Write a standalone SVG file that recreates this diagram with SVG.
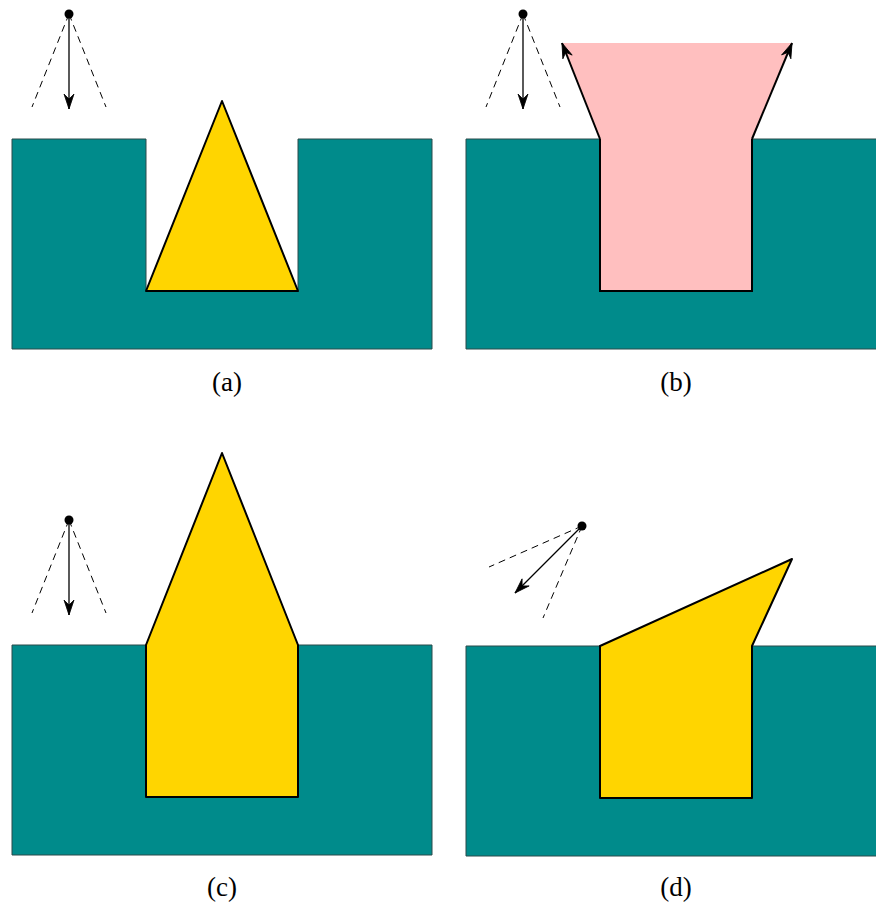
<svg xmlns="http://www.w3.org/2000/svg" width="876" height="905" viewBox="0 0 876 905">
<style>
.sub{fill:#008B8B;stroke:#2a4a4a;stroke-width:1}
.gold{fill:#FFD500;stroke:#000;stroke-width:2;stroke-linejoin:round}
.ray{stroke:#000;stroke-width:1.3;fill:none}
.dash{stroke:#000;stroke-width:1;stroke-dasharray:7,5;fill:none}
.lbl{font-family:"Liberation Serif",serif;font-size:27px;fill:#000;text-anchor:middle}
</style>
<defs>
<marker id="ah" viewBox="-17 -7 18 14" refX="0" refY="0" markerWidth="18" markerHeight="14" markerUnits="userSpaceOnUse" orient="auto" overflow="visible">
<path d="M0,0 L-15,-5 L-10,0 L-15,5 Z" fill="#000" stroke="#000" stroke-width="0.8" stroke-linejoin="round"/>
</marker>
</defs>
<g id="panel-a">
<path class="sub" d="M12,139 H146 V291 H298 V139 H432 V349 H12 Z"/>
<path class="gold" d="M222,101 L298,291 L146,291 Z"/>
<circle cx="69" cy="14" r="4.5" fill="#000"/>
<text class="lbl" x="227" y="391">(a)</text>
</g>
<g id="panel-b">
<path class="sub" d="M466,139 H600 V291 H752 V139 H877 V349 H466 Z"/>
<path d="M562,43 H792 L752,139 V291 H600 V139 Z" fill="#FFBFBF"/>
<path d="M600,139 V291 H752 V139" fill="none" stroke="#000" stroke-width="2"/>
<circle cx="523" cy="14" r="4.5" fill="#000"/>
<text class="lbl" x="676" y="391">(b)</text>
</g>
<g id="panel-c">
<path class="sub" d="M12,645 H146 V797 H298 V645 H432 V855 H12 Z"/>
<path class="gold" d="M146,645 L222,453 L298,645 V797 H146 Z"/>
<circle cx="69" cy="520" r="4.5" fill="#000"/>
<text class="lbl" x="222" y="896">(c)</text>
</g>
<g id="panel-d">
<path class="sub" d="M466,646 H600 V798 H752 V646 H877 V856 H466 Z"/>
<path class="gold" d="M600,646 L792,559 L752,646 V798 H600 Z"/>
<circle cx="582" cy="526" r="4.5" fill="#000"/>
<text class="lbl" x="676" y="896">(d)</text>
</g>
<g id="connectors">
<line class="dash" x1="69" y1="14" x2="32" y2="107"/>
<line class="dash" x1="69" y1="14" x2="106" y2="107"/>
<line class="ray" x1="69" y1="14" x2="69" y2="109" marker-end="url(#ah)"/>
<line class="dash" x1="523" y1="14" x2="486" y2="107"/>
<line class="dash" x1="523" y1="14" x2="560" y2="107"/>
<line class="ray" x1="523" y1="14" x2="523" y2="109" marker-end="url(#ah)"/>
<line x1="600" y1="139" x2="562" y2="43" stroke="#000" stroke-width="2" marker-end="url(#ah)"/>
<line x1="752" y1="139" x2="792" y2="43" stroke="#000" stroke-width="2" marker-end="url(#ah)"/>
<line class="dash" x1="69" y1="520" x2="32" y2="613"/>
<line class="dash" x1="69" y1="520" x2="106" y2="613"/>
<line class="ray" x1="69" y1="520" x2="69" y2="615" marker-end="url(#ah)"/>
<line class="dash" x1="582" y1="526" x2="489" y2="567"/>
<line class="dash" x1="582" y1="526" x2="543" y2="618"/>
<line class="ray" x1="582" y1="526" x2="515" y2="593" marker-end="url(#ah)"/>
</g>
</svg>
